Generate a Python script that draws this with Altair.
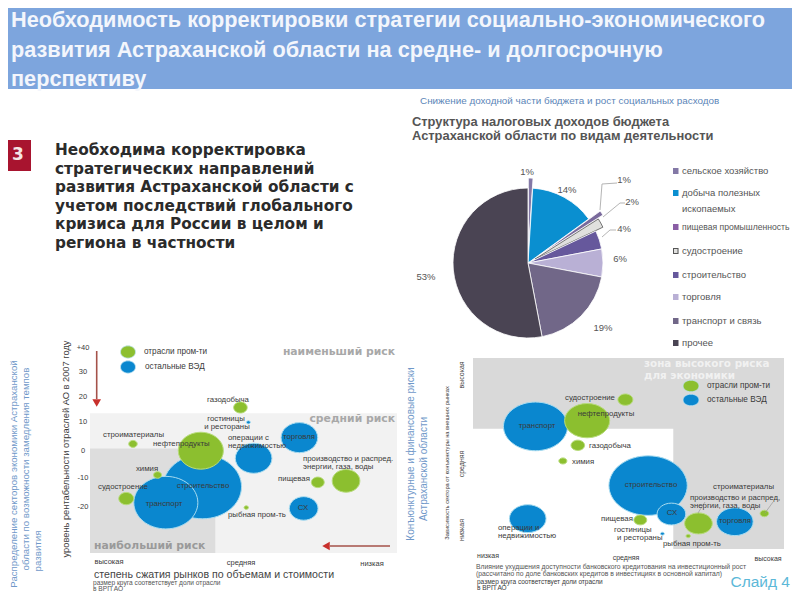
import math

import altair as alt
import pandas as pd

# ---------- values ----------
title_lines = [
    "Необходимость корректировки стратегии социально-экономического",
    "развития Астраханской области на средне- и долгосрочную",
    "перспективу",
]
body_lines = [
    "Необходима корректировка",
    "стратегических направлений",
    "развития Астраханской области с",
    "учетом последствий глобального",
    "кризиса для России в целом и",
    "региона в частности",
]
sectors = ["сельское хозяйство", "добыча полезных ископаемых", "пищевая промышленность", "судостроение",
           "строительство", "торговля", "транспорт и связь", "прочее"]
shares = [1, 14, 1, 2, 4, 6, 19, 53]
sector_colors = ["#8378a6", "#0a8fd0", "#7a6a9c", "#e0e0de", "#66589c", "#b9b0d5", "#716788", "#4a4453"]
explode = [10, 0, 14, 8, 0, 0, 0, 0]

industries = ["строительство", "транспорт", "нефтепродукты", "операции с недвижимостью", "торговля", "СХ",
              "производство и распред.", "пищевая", "судостроение", "химия", "газодобыча",
              "строиматериалы", "рыбная пром-ть", "гостиницы и рестораны"]
groups = ["ВЭД", "ВЭД", "пром", "ВЭД", "ВЭД", "ВЭД", "пром", "пром", "пром", "пром", "пром", "пром", "пром", "ВЭД"]
grp_share = [16, 10.7, 5.3, 3.5, 3.5, 2.15, 2.0, 0.43, 0.58, 0.17, 0.48, 0.19, 0.05, 0.04]
# panel 1: market compression (0 high .. 100 low), profitability in 2007
p1_x = [36.6, 24.7, 36.1, 53.3, 68.2, 69.6, 83.4, 74.2, 11.8, 22.0, 49.0, 14.0, 50.9, 51.6]
p1_y = [-13.1, -18.6, 0.0, -2.8, 4.6, -20.6, -11.1, -11.6, -17.2, -9.0, 15.8, 2.4, -20.3, 10.0]
# panel 2: credit availability influence, dependence on external markets
p2_x = [56.3, 20.1, 36.7, 17.6, 84.2, 63.8, 72.5, 53.8, 49.0, 28.9, 33.7, 93.7, 69.2, 60.9]
p2_y = [33.2, 64.2, 67.2, 15.9, 14.3, 18.3, 13.4, 15.2, 78.2, 46.1, 54.3, 18.6, 6.8, 8.0]
p1_ticks = [40, 30, 20, 10, 0, -10, -20]
p1_tick_labels = ["+40", "30", "20", "10", "0", "-10", "-20"]

GREEN, BLUE = "#8cbf2f", "#0a87cf"
INK, GREY_T, LINK = "#3a3a3a", "#555555", "#6f98c9"
SANS, WIDE = "Liberation Sans", "DejaVu Sans"
M = 8  # page margin: helpers take picture coordinates
layers = []


def txt(s, x, y, size=8, color=INK, align="left", weight="normal", angle=None, font=SANS):
    kw = {"angle": angle} if angle is not None else {}
    layers.append(alt.Chart().mark_text(text=s, fontSize=size, color=color, align=align, baseline="middle",
                                        fontWeight=weight, font=font, **kw).encode(x=alt.value(x - M), y=alt.value(y - M)))


def box(x, x2, y, y2, color):
    layers.append(alt.Chart().mark_rect(color=color).encode(x=alt.value(x - M), x2=alt.value(x2 - M),
                                                            y=alt.value(y - M), y2=alt.value(y2 - M)))


def seg(x, y, x2, y2, color="#b5b5b5", width=1.0):
    layers.append(alt.Chart().mark_rule(color=color, strokeWidth=width).encode(
        x=alt.value(x - M), y=alt.value(y - M), x2=alt.value(x2 - M), y2=alt.value(y2 - M)))


def ellipse(ratio):
    return f"M-1,0A1,{ratio} 0 1,1 1,0A1,{ratio} 0 1,1 -1,0Z"


def key(x, y, w, color, ratio):
    layers.append(alt.Chart().mark_point(shape=ellipse(ratio), filled=True, opacity=1, color=color,
                                         stroke="#bfe3f3", strokeWidth=0.8).encode(
        x=alt.value(x - M), y=alt.value(y - M), size=alt.value(w * w)))


def bubbles(xs, ys, xscale, yscale, ratio):
    df = pd.DataFrame({"name": industries, "group": groups, "share": grp_share, "x": xs, "y": ys, "o": range(14)})
    layers.append(alt.Chart(df).mark_point(shape=ellipse(ratio), filled=True, opacity=1, strokeWidth=1).encode(
        x=alt.X("x:Q", scale=xscale, axis=None),
        y=alt.Y("y:Q", scale=yscale, axis=None),
        size=alt.Size("share:Q", legend=None, scale=alt.Scale(domain=[0, 16], range=[0, 6136])),
        color=alt.Color("group:N", legend=None, scale=alt.Scale(domain=["пром", "ВЭД"], range=[GREEN, BLUE])),
        stroke=alt.Stroke("group:N", legend=None, scale=alt.Scale(domain=["пром", "ВЭД"], range=["#b8dc7c", "#a9dcf0"])),
        order=alt.Order("o:Q"),
    ))


def zone(x0, x1, y0, y1, xscale, yscale, color):
    df = pd.DataFrame({"a": [x0], "b": [x1], "c": [y0], "d": [y1]})
    layers.append(alt.Chart(df).mark_rect(color=color).encode(
        x=alt.X("a:Q", scale=xscale, axis=None), x2="b:Q",
        y=alt.Y("c:Q", scale=yscale, axis=None), y2="d:Q"))


# ---------- header and text block ----------
box(8, 792, 8, 89, "#7da5dd")
for line, y in zip(title_lines, [20, 50, 79]):
    txt(line, 11, y, 21.7, "#f3f6fc", weight="bold")
box(8, 31, 140, 171, "#a8142f")
txt("3", 18, 155, 17, "#f5e6e6", "center", "bold", font=WIDE)
for line, y in zip(body_lines, [150, 169, 187, 206, 224, 243]):
    txt(line, 55, y, 15.3, "#2b2b2b", weight="bold", font=WIDE)

# ---------- pie ----------
txt("Снижение доходной части бюджета и рост социальных расходов", 420, 101, 9.9, "#5b85b8")
txt("Структура налоговых доходов бюджета", 412, 122, 12.9, GREY_T, weight="bold")
txt("Астраханской области по видам деятельности", 412, 136, 12.9, GREY_T, weight="bold")

CX, CY = 528 - M, 263 - M
starts, ends, cxs, cys = [], [], [], []
acc = 0
for s, e in zip(shares, explode):
    mid = (acc + s / 2) / 100 * 2 * math.pi
    starts.append(acc)
    ends.append(acc + s)
    cxs.append(CX + e * math.sin(mid))
    cys.append(CY - e * math.cos(mid))
    acc += s
pie = pd.DataFrame({"sector": sectors, "start": starts, "end": ends, "cx": cxs, "cy": cys})
theta_scale = alt.Scale(domain=[0, 100], range=[0, 2 * math.pi])
layers.append(alt.Chart(pie).mark_arc(radius=75, strokeWidth=0.8).encode(
    theta=alt.Theta("start:Q", scale=theta_scale),
    theta2="end:Q",
    x=alt.X("cx:Q", scale=None),
    y=alt.Y("cy:Q", scale=None),
    color=alt.Color("sector:N", legend=None, scale=alt.Scale(domain=sectors, range=sector_colors)),
    stroke=alt.condition(alt.datum.sector == "судостроение", alt.value("#555555"), alt.value("#ffffff")),
))
for a in [(600, 210, 602, 184), (602, 184, 617, 183), (603, 217, 620, 203), (620, 203, 625, 203),
          (602, 237, 610, 230), (610, 230, 616, 230)]:
    seg(*a)
pct_pos = [(527, 172), (567, 190), (624, 180), (632, 202), (624, 229), (620, 259), (603, 328), (426, 277)]
for s, (x, y) in zip(shares, pct_pos):
    txt(f"{s}%", x, y, 9.5, GREY_T, "center")

swatch_y = [171, 193, 227, 251, 275, 297, 321, 343]
swatch_labels = ["сельское хозяйство", "добыча полезных", "пищевая промышленность", "судостроение",
                 "строительство", "торговля", "транспорт и связь", "прочее"]
swatch_fill = ["#8378a6", "#0a8fd0", "#8a5ea5", "#e0e0de", "#66589c", "#b9b0d5", "#716788", "#4a4453"]
for lab, y, c in zip(swatch_labels, swatch_y, swatch_fill):
    box(673, 678.5, y - 3, y + 3, c)
    txt(lab, 682, y, 8.6 if lab.startswith("пищевая") else 9.5, GREY_T)
box(673, 678.5, 248, 254, "#555555")
box(674, 677.5, 249, 253, "#e0e0de")
txt("ископаемых", 682, 209, 9.5, GREY_T)

# ---------- left bubble panel ----------
p1_xs = alt.Scale(domain=[0, 100], range=[90 - M, 397 - M])
p1_ys = alt.Scale(domain=[-36.1, -20, -10, 0, 10, 20, 30, 40, 41.4],
                  range=[r - M for r in [553, 506.7, 477.7, 450.7, 422.3, 396.7, 371.7, 348.3, 345]])
zone(0, 100, -36.1, 13.5, p1_xs, p1_ys, "#f2f2f2")
zone(0, 40.8, -36.1, 0.8, p1_xs, p1_ys, "#dddddd")
txt("наименьший риск", 395, 352, 10.8, "#a8a8a8", "right", "bold", font=WIDE)
txt("средний риск", 395, 419, 10.8, "#a8a8a8", "right", "bold", font=WIDE)
txt("наибольший риск", 94, 546, 10.8, "#9a9a9a", "left", "bold", font=WIDE)
bubbles(p1_x, p1_y, p1_xs, p1_ys, 0.82)
key(128, 352, 15, GREEN, 0.82)
key(128, 367, 15, BLUE, 0.82)
txt("отрасли пром-ти", 144, 352, 8.2)
txt("остальные ВЭД", 145, 367, 8.2)
for s, x, y, a in [("газодобыча", 228, 400, "center"), ("гостиницы", 226, 419, "center"), ("и рестораны", 227, 427, "center"),
                   ("строиматериалы", 103, 435, "left"), ("нефтепродукты", 153, 444, "left"),
                   ("операции с", 228, 437.5, "left"), ("недвижимостью", 228, 445.5, "left"), ("торговля", 299, 437, "center"),
                   ("производство и распред.", 303, 459, "left"), ("энергии, газа, воды", 303, 467, "left"),
                   ("химия", 147, 469, "center"), ("строительство", 203, 486, "center"), ("судостроение", 123, 487, "center"),
                   ("пищевая", 294, 479, "center"), ("транспорт", 164, 504, "center"), ("СХ", 303, 508, "center"),
                   ("рыбная пром-ть", 228, 515, "left")]:
    txt(s, x, y, 7.8, INK, a)
ticks = pd.DataFrame({"v": p1_ticks, "label": p1_tick_labels})
layers.append(alt.Chart(ticks).mark_text(fontSize=7.5, color=INK, font=SANS, align="center").encode(
    x=alt.value(83 - M), y=alt.Y("v:Q", scale=p1_ys, axis=None), text="label:N"))
txt("высокая", 109, 562, 7.5, align="center")
txt("средняя", 241, 563, 7.5, align="center")
txt("низкая", 372, 564, 7.5, align="center")
txt("степень сжатия рынков по объемам и стоимости", 94, 574.5, 10.6, "#444444")
txt("размер круга соответствует доли отрасли", 93, 582.5, 6.6, GREY_T)
txt("в ВРП АО", 93, 588.5, 6.6, GREY_T)
txt("уровень рентабельности отраслей АО в 2007 году", 66, 449, 9.3, INK, "center", angle=270)
txt("Распределение секторов экономики  Астраханской", 14, 474, 9.7, LINK, "center", angle=270)
txt("области по  возможности замедления темпов", 26, 469, 9.7, LINK, "center", angle=270)
txt("развития", 38, 551, 9.7, LINK, "center", angle=270)
seg(96.7, 351, 96.7, 399, "#a5524a", 1.6)
layers.append(alt.Chart().mark_point(shape="triangle-down", filled=True, opacity=1, color="#c8302c").encode(
    x=alt.value(96.7 - M), y=alt.value(403 - M), size=alt.value(75)))
seg(330, 546, 390, 546, "#a5524a", 1.6)
layers.append(alt.Chart().mark_point(shape="triangle-left", filled=True, opacity=1, color="#c8302c").encode(
    x=alt.value(326 - M), y=alt.value(546 - M), size=alt.value(75)))

# ---------- right bubble panel ----------
p2_xs = alt.Scale(domain=[0, 100], range=[473 - M, 784 - M])
p2_ys = alt.Scale(domain=[0, 100], range=[549 - M, 358 - M])
zone(0, 100, 0, 100, p2_xs, p2_ys, "#d9d9d9")
zone(0, 64.4, 0, 62.9, p2_xs, p2_ys, "#ffffff")
txt("зона высокого риска", 644, 364, 10.4, "#f1f1f1", weight="bold", font=WIDE)
txt("для экономики", 644, 375.5, 10.4, "#f1f1f1", weight="bold", font=WIDE)
bubbles(p2_x, p2_y, p2_xs, p2_ys, 0.76)
key(691, 386, 16, GREEN, 0.72)
key(691, 400, 16, BLUE, 0.72)
txt("отрасли пром-ти", 707, 386, 8.2)
txt("остальные ВЭД", 707, 400, 8.2)
seg(705, 502, 698, 513, "#999999", 0.7)
seg(773, 502, 765, 513, "#999999", 0.7)
for s, x, y, a in [("судостроение", 565, 398, "left"), ("нефтепродукты", 606, 414, "center"), ("транспорт", 537, 426, "center"),
                   ("газодобыча", 589, 446, "left"), ("химия", 572, 462, "left"), ("строительство", 651, 485, "center"),
                   ("строиматериалы", 713, 487, "left"), ("производство и распред,", 690, 498, "left"),
                   ("энергии, газа, воды", 690, 506, "left"), ("СХ", 672, 513, "center"), ("пищевая", 601, 519, "left"),
                   ("торговля", 735, 521, "center"), ("операции и", 498, 528, "left"), ("недвижимостью", 498, 536, "left"),
                   ("гостиницы", 614, 530, "left"), ("и рестораны", 617, 538, "left"), ("рыбная пром-ть", 663, 544, "left")]:
    txt(s, x, y, 7.8, INK, a)
txt("низкая", 488, 556, 7, align="center")
txt("средняя", 626, 558, 7, align="center")
txt("высокая", 768, 559, 7, align="center")
txt("высокая", 462, 375, 7, align="center", angle=270)
txt("средняя", 462, 464, 7, align="center", angle=270)
txt("низкая", 462, 530, 7, align="center", angle=270)
txt("Зависимость сектора от конъюнктуры на внешних рынках", 447, 463, 5.7, align="center", angle=270)
txt("Влияние ухудшения доступности банковского кредитования на инвестиционный рост", 476, 566.5, 6.8, GREY_T)
txt("(рассчитано по доле банковских кредитов в инвестициях в основной капитал)", 476, 573.5, 6.8, GREY_T)
txt("размер круга соответствует доли отрасли", 477, 581.5, 6.5, INK)
txt("в ВРП АО", 477, 588, 6.5, INK)
txt("Конъюнктурные и финансовые риски", 411, 454, 10, LINK, "center", angle=270)
txt("Астраханской области", 424, 469, 10, LINK, "center", angle=270)
txt("Слайд 4", 790, 582, 15.5, "#5cb8d8", "right")

chart = alt.layer(*layers).resolve_scale(
    x="independent", y="independent", size="independent", color="independent", stroke="independent",
).properties(
    width=784, height=584, padding=0, autosize=alt.AutoSizeParams(type="none"), background="#ffffff",
).configure_view(stroke=None)

chart.save("out.html", embed_options={"renderer": "svg", "actions": False})
